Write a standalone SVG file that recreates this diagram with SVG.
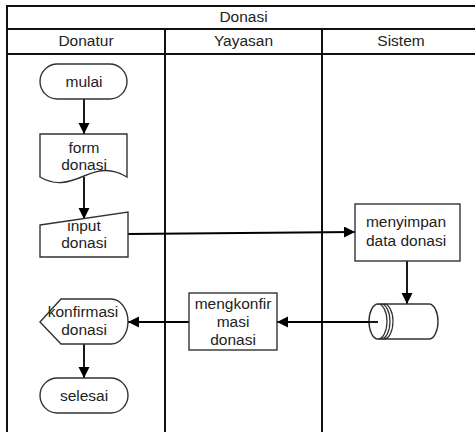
<svg xmlns="http://www.w3.org/2000/svg" width="475" height="432" viewBox="0 0 475 432">
<style>
text{font-family:"Liberation Sans",Arial,sans-serif;font-size:15.5px;fill:#222;text-anchor:middle}
.frame{fill:none;stroke:#111;stroke-width:2}
.shape{fill:#fff;stroke:#333;stroke-width:1.4}
.conn{fill:none;stroke:#000;stroke-width:1.8}
</style>
<defs>
<marker id="arr" markerUnits="userSpaceOnUse" markerWidth="12" markerHeight="12" refX="11" refY="5.5" orient="auto">
<path d="M0,0 L11,5.5 L0,11 z" fill="#000"/>
</marker>
</defs>
<rect width="475" height="432" fill="#fff"/>
<g id="pool">
<rect class="frame" x="7" y="6" width="480" height="440"/>
<line class="frame" x1="7" y1="29" x2="480" y2="29"/>
<line class="frame" x1="7" y1="54" x2="480" y2="54"/>
<line class="frame" x1="165" y1="29" x2="165" y2="440"/>
<line class="frame" x1="322" y1="29" x2="322" y2="440"/>
<text x="243.5" y="22">Donasi</text>
<text x="86" y="46">Donatur</text>
<text x="243.5" y="46">Yayasan</text>
<text x="401" y="46">Sistem</text>
</g>
<g id="connectors">
<line class="conn" x1="84" y1="99" x2="84" y2="134" marker-end="url(#arr)"/>
<line class="conn" x1="84" y1="177" x2="84" y2="219" marker-end="url(#arr)"/>
<line class="conn" x1="128" y1="234" x2="355" y2="232" marker-end="url(#arr)"/>
<line class="conn" x1="407" y1="261" x2="407" y2="304" marker-end="url(#arr)"/>
<line class="conn" x1="377" y1="322" x2="277" y2="322" marker-end="url(#arr)"/>
<line class="conn" x1="189" y1="322" x2="128" y2="322" marker-end="url(#arr)"/>
<line class="conn" x1="84" y1="344" x2="84" y2="378" marker-end="url(#arr)"/>
</g>
<g id="mulai">
<rect class="shape" x="40" y="64" width="87" height="35" rx="17.5"/>
<text x="84" y="87">mulai</text>
</g>
<g id="form-donasi">
<path class="shape" d="M40,134 H127 V177 C112,168 100,169 84,176 C68,183 55,186 40,177 Z"/>
<text x="84" y="153">form</text>
<text x="84" y="170">donasi</text>
</g>
<g id="input-donasi">
<path class="shape" d="M40,225 L128,212 L128,257 L40,257 Z"/>
<text x="84" y="231">input</text>
<text x="84" y="248">donasi</text>
</g>
<g id="menyimpan">
<rect class="shape" x="355" y="204" width="105" height="57"/>
<text x="406" y="227">menyimpan</text>
<text x="406" y="246">data donasi</text>
</g>
<g id="database">
<path class="shape" d="M378,304 H429 A9,17.5 0 0 1 429,339 H378 A9,17.5 0 0 1 378,304 Z"/>
<path fill="none" stroke="#333" stroke-width="1.2" d="M378,304 A9,17.5 0 0 1 378,339 M381,304 A9,17.5 0 0 1 381,339 M384,304 A9,17.5 0 0 1 384,339"/>
<line class="conn" x1="368" y1="322" x2="378" y2="322"/>
</g>
<g id="mengkonfirmasi">
<rect class="shape" x="189" y="293" width="88" height="57"/>
<text x="233" y="309">mengkonfir</text>
<text x="233" y="327">masi</text>
<text x="233" y="345">donasi</text>
</g>
<g id="konfirmasi-donasi">
<path class="shape" d="M40,322 L61,299 H111 A17,22.5 0 0 1 111,344 H61 Z"/>
<text x="83" y="317">konfirmasi</text>
<text x="84" y="335">donasi</text>
</g>
<g id="selesai">
<rect class="shape" x="40" y="378" width="88" height="35" rx="17.5"/>
<text x="84" y="401">selesai</text>
</g>
</svg>
